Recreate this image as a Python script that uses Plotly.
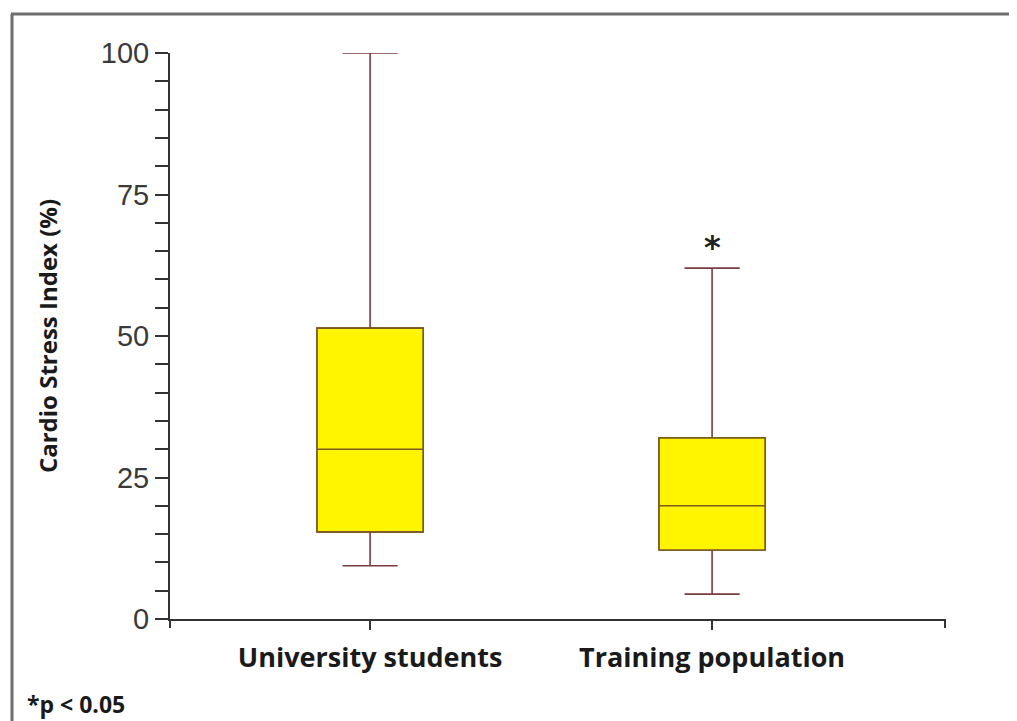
import plotly.graph_objects as go

categories = ["University students", "Training population"]
q1 = [15.4, 12.2]
median = [30.0, 20.0]
q3 = [51.4, 32.0]
lower = [9.4, 4.4]
upper = [100.0, 62.0]
sig_marks = ["", "*"]
y_ticks = [0, 25, 50, 75, 100]
footnote = "*p < 0.05"

OFF = 8  # page body margin
# plot area in page pixels
X0, X1, Y0, Y1 = 170, 945, 53, 619
W, H = 1017 - OFF, 721 - OFF
ML, MT = X0 - OFF, Y0 - OFF
MR, MB = W - (X1 - OFF), H - (Y1 - OFF)
pw, ph = X1 - X0, Y1 - Y0

def px_x(p):  # page pixel -> paper fraction
    return (p - X0) / pw

def px_y(p):
    return (Y1 - p) / ph

fig = go.Figure()
# whiskers
fig.add_trace(go.Box(
    x=categories, q1=q1, median=median, q3=q3,
    lowerfence=lower, upperfence=upper,
    width=0.31, whiskerwidth=0.52,
    fillcolor="rgba(0,0,0,0)", line=dict(color="#7a3c40", width=1.6),
    hoverinfo="skip", showlegend=False,
))
# boxes
fig.add_trace(go.Box(
    x=categories, q1=q1, median=median, q3=q3,
    lowerfence=q1, upperfence=q3,
    width=0.31, whiskerwidth=0,
    fillcolor="#FFF500", line=dict(color="#7d5a1e", width=1.6),
    showlegend=False,
))

for c, m, u in zip(categories, sig_marks, upper):
    if m:
        fig.add_annotation(x=c, y=u, text=f"<b>{m}</b>", showarrow=False,
                           yshift=21, font=dict(family="DejaVu Sans", size=32, color="#222"))

fig.add_annotation(xref="paper", yref="paper", x=px_x(25), y=px_y(704),
                   xanchor="left", yanchor="middle", showarrow=False,
                   text=f"<b>{footnote}</b>",
                   font=dict(family="Open Sans", size=23, color="#1a1a1a"))

# outer frame (left and top)
fig.add_shape(type="line", xref="paper", yref="paper",
              x0=px_x(12), y0=px_y(740), x1=px_x(12), y1=px_y(14),
              line=dict(color="#6e6e6e", width=3))
fig.add_shape(type="line", xref="paper", yref="paper",
              x0=px_x(11), y0=px_y(14), x1=px_x(1030), y1=px_y(14),
              line=dict(color="#6e6e6e", width=3))
# small down ticks at x-axis ends
for xp in (X0, X1):
    fig.add_shape(type="line", xref="paper", yref="paper",
                  x0=px_x(xp), y0=0, x1=px_x(xp), y1=px_y(628),
                  line=dict(color="#333", width=2))

fig.update_layout(
    width=W, height=H,
    margin=dict(l=ML, r=MR, t=MT, b=MB, autoexpand=False),
    plot_bgcolor="white", paper_bgcolor="white",
    boxmode="overlay",
    xaxis=dict(
        type="category", range=[-0.585, 1.681],
        showline=True, linecolor="#333", linewidth=2,
        ticks="outside", ticklen=9, tickwidth=2, tickcolor="#333",
        showgrid=False, zeroline=False,
        tickfont=dict(family="Open Sans", size=27, color="#1a1a1a"),
        tickprefix="<b>", ticksuffix="</b>",
        ticklabelstandoff=5,
    ),
    yaxis=dict(
        range=[0, 100], tickvals=y_ticks,
        showline=True, linecolor="#333", linewidth=2,
        ticks="outside", ticklen=13, tickwidth=2, tickcolor="#333",
        minor=dict(dtick=5, ticks="outside", ticklen=13, tickwidth=2, tickcolor="#333", showgrid=False),
        showgrid=False, zeroline=False,
        tickfont=dict(family="Liberation Sans", size=29, color="#3a3a3a"),
        title=dict(text="<b>Cardio Stress Index (%)</b>", standoff=36,
                   font=dict(family="Open Sans", size=24, color="#1a1a1a")),
    ),
)

fig.write_html("out.html")
